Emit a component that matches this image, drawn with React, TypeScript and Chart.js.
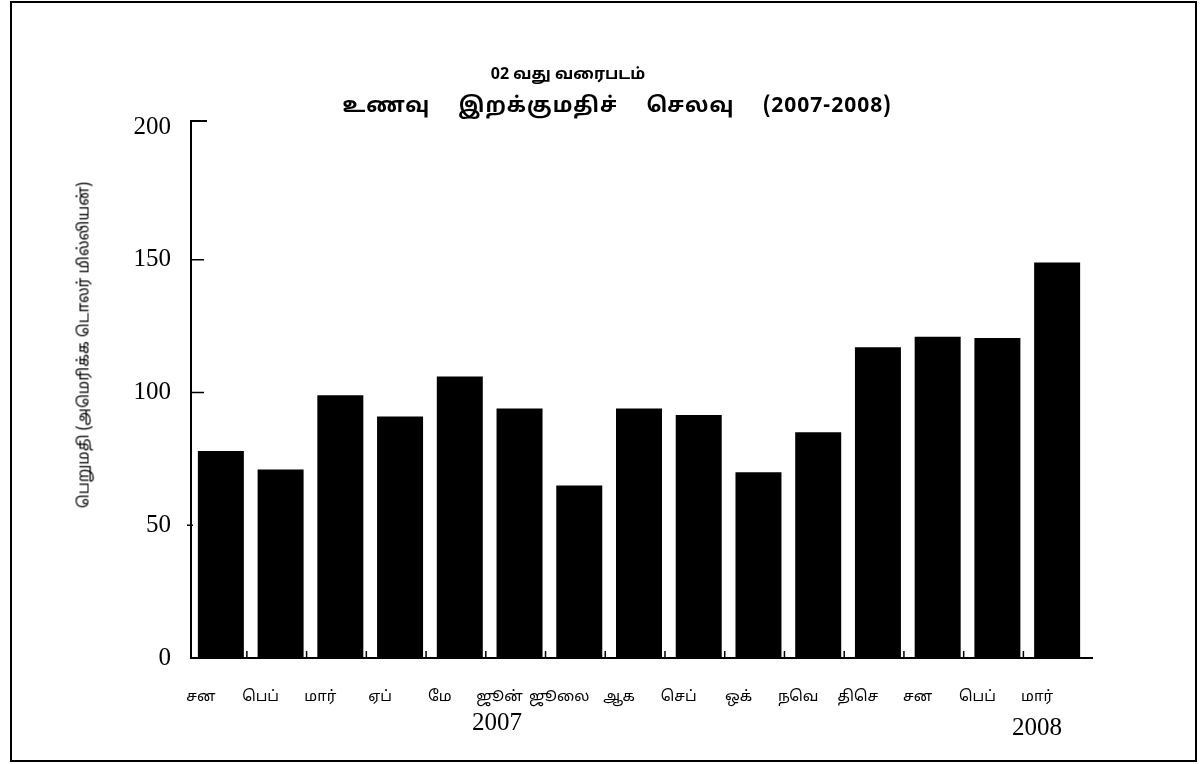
import React, { useEffect, useRef } from "react";
import { Chart, registerables } from "chart.js";

Chart.register(...registerables);

const title1 = "02 வது வரைபடம்";
const title2 = "உணவு இறக்குமதிச் செலவு (2007-2008)";
const yAxisTitle = "பெறுமதி (அமெரிக்க டொலர் மில்லியன்)";
const months = ["சன", "பெப்", "மார்", "ஏப்", "மே", "ஜூன்", "ஜூலை", "ஆக", "செப்", "ஒக்", "நவெ", "திசெ", "சன", "பெப்", "மார்"];
const values = [78, 71, 99, 91, 106, 94, 65, 94, 91.5, 70, 85, 117, 121, 120.5, 149];
const yTickValues = [0, 50, 100, 150, 200];
const yearLabels = ["2007", "2008"];

const TAMIL = "'Noto Sans Tamil', 'Lohit Tamil', 'Noto Sans', 'DejaVu Sans', sans-serif";
const SERIF = "'Liberation Serif', 'DejaVu Serif', serif";

const axesPlugin = {
  id: "handAxes",
  afterDraw(chart: any) {
    const { ctx, chartArea } = chart;
    const { left, right, bottom } = chartArea;
    const ys = chart.scales.y;
    const top = ys.getPixelForValue(yTickValues[yTickValues.length - 1]) - 6;
    ctx.save();
    ctx.strokeStyle = "#000";
    ctx.lineWidth = 2;
    ctx.beginPath();
    ctx.moveTo(left + 16, top);
    ctx.lineTo(left, top);
    ctx.lineTo(left, bottom);
    ctx.lineTo(right + 6, bottom);
    ctx.stroke();
    ctx.lineWidth = 1.5;
    ctx.beginPath();
    [100, 150].forEach((v) => {
      const py = ys.getPixelForValue(v);
      ctx.moveTo(left, py);
      ctx.lineTo(left + 13, py);
    });
    const p50 = ys.getPixelForValue(50);
    ctx.moveTo(left - 4, p50);
    ctx.lineTo(left + 2, p50);
    ctx.stroke();
    const bars = chart.getDatasetMeta(0).data;
    ctx.beginPath();
    for (let i = 0; i < bars.length - 1; i++) {
      const b = bars[i] as any;
      const px = b.x + b.width / 2 + 3;
      ctx.moveTo(px, bottom);
      ctx.lineTo(px, bottom - 7);
    }
    ctx.stroke();
    ctx.restore();
  },
};

export default function App() {
  const ref = useRef<HTMLCanvasElement | null>(null);

  useEffect(() => {
    if (!ref.current) return;
    const chart = new Chart(ref.current, {
      type: "bar",
      data: {
        labels: months,
        datasets: [
          {
            data: values,
            backgroundColor: "#000",
            borderWidth: 0,
            barPercentage: 0.77,
            categoryPercentage: 1,
          },
        ],
      },
      options: {
        responsive: false,
        animation: false,
        layout: { padding: { left: 0, top: 127, right: 116, bottom: 0 } },
        plugins: { legend: { display: false }, tooltip: { enabled: false }, title: { display: false } },
        scales: {
          x: {
            grid: { display: false },
            border: { display: false },
            ticks: {
              color: "#000",
              font: { family: TAMIL, size: 15 },
              padding: 23,
              labelOffset: -20,
              maxRotation: 0,
              autoSkip: false,
            },
            afterFit: (s: any) => {
              s.height = 106;
            },
          },
          y: {
            min: 0,
            max: 200,
            grid: { display: false },
            border: { display: false },
            ticks: {
              stepSize: 50,
              color: "#000",
              font: { family: SERIF, size: 25 },
              padding: 12,
            },
            afterFit: (s: any) => {
              s.width = 191;
            },
          },
        },
      },
      plugins: [axesPlugin],
    });
    return () => chart.destroy();
  }, []);

  return (
    <div style={{ position: "absolute", left: 0, top: 0, width: 1203, height: 764, background: "#fff", overflow: "hidden" }}>
      <div
        style={{
          position: "absolute",
          left: 10,
          top: 1,
          width: 1187,
          height: 761,
          border: "2px solid #000",
          boxSizing: "border-box",
        }}
      />
      <canvas ref={ref} width={1203} height={764} style={{ position: "absolute", left: 0, top: 0 }} />
      <div
        style={{
          position: "absolute",
          left: 568,
          top: 75,
          transform: "translate(-50%, -50%)",
          whiteSpace: "nowrap",
          fontFamily: TAMIL,
          fontWeight: 700,
          fontSize: 16,
          color: "#000",
        }}
      >
        {title1}
      </div>
      <div
        style={{
          position: "absolute",
          left: 617,
          top: 107,
          transform: "translate(-50%, -50%)",
          whiteSpace: "nowrap",
          fontFamily: TAMIL,
          fontWeight: 700,
          fontSize: 21,
          wordSpacing: 22,
          letterSpacing: 1,
          color: "#000",
        }}
      >
        {title2}
      </div>
      <div
        style={{
          position: "absolute",
          left: 85,
          top: 345,
          transform: "translate(-50%, -50%) rotate(-90deg)",
          whiteSpace: "nowrap",
          fontFamily: TAMIL,
          fontSize: 15.5,
          color: "#000",
        }}
      >
        {yAxisTitle}
      </div>
      <div
        style={{
          position: "absolute",
          left: 497,
          top: 722,
          transform: "translate(-50%, -50%)",
          fontFamily: SERIF,
          fontSize: 25,
          color: "#000",
        }}
      >
        {yearLabels[0]}
      </div>
      <div
        style={{
          position: "absolute",
          left: 1037,
          top: 727,
          transform: "translate(-50%, -50%)",
          fontFamily: SERIF,
          fontSize: 25,
          color: "#000",
        }}
      >
        {yearLabels[1]}
      </div>
    </div>
  );
}
